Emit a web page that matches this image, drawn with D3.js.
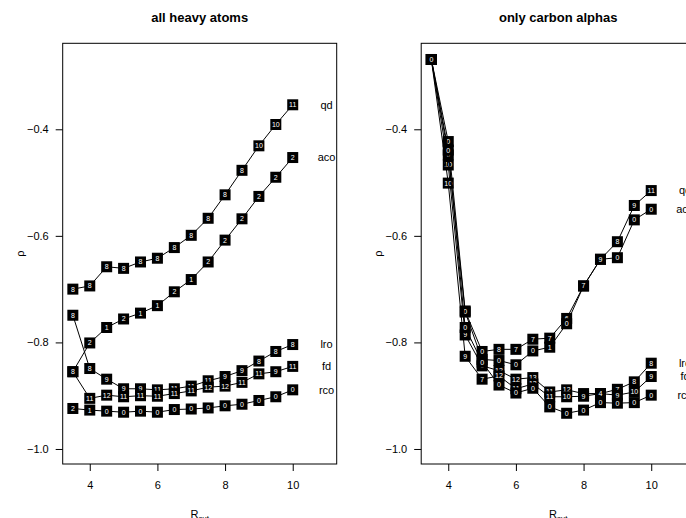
<!DOCTYPE html>
<html>
  <head>
    <meta charset="utf-8">
    <title>rho vs Rcut</title>
    <style>
      body { margin: 0; background: white; }
      svg { display: block; font-family: "Liberation Sans", Arial, Helvetica, sans-serif; }
    </style>
    <script src="https://cdn.jsdelivr.net/npm/d3@7"></script>
  </head>
  <body>
    <svg id="chart"></svg>
    <script>
      var width = 686;
      var height = 518;

      // cutoff radii on the x axis
      var rcut = [3.5, 4, 4.5, 5, 5.5, 6, 6.5, 7, 7.5, 8, 8.5, 9, 9.5, 10];
      var seriesNames = ["qd", "aco", "lro", "fd", "rco"];
      var xTicks = [4, 6, 8, 10];
      var yTicks = [-1.0, -0.8, -0.6, -0.4];
      var panelTitles = ["all heavy atoms", "only carbon alphas"];

      // panel 1: all heavy atoms
      var heavyQd  = [-0.700, -0.694, -0.658, -0.661, -0.649, -0.642, -0.622, -0.599, -0.567, -0.523, -0.477, -0.431, -0.391, -0.354];
      var heavyAco = [-0.855, -0.801, -0.772, -0.756, -0.745, -0.731, -0.705, -0.682, -0.649, -0.608, -0.568, -0.526, -0.490, -0.453];
      var heavyLro = [-0.749, -0.849, -0.869, -0.887, -0.887, -0.889, -0.887, -0.882, -0.872, -0.864, -0.853, -0.835, -0.817, -0.804];
      var heavyFd  = [-0.855, -0.905, -0.899, -0.902, -0.900, -0.901, -0.896, -0.891, -0.884, -0.882, -0.875, -0.859, -0.855, -0.845];
      var heavyRco = [-0.924, -0.927, -0.929, -0.931, -0.929, -0.931, -0.926, -0.925, -0.923, -0.919, -0.916, -0.909, -0.902, -0.889];

      var heavyQdLab  = [8, 8, 8, 8, 8, 8, 8, 8, 8, 8, 8, 10, 10, 11];
      var heavyAcoLab = [8, 2, 1, 2, 1, 1, 2, 1, 2, 2, 2, 2, 2, 2];
      var heavyLroLab = [8, 8, 9, 9, 9, 11, 11, 11, 11, 9, 9, 8, 8, 8];
      var heavyFdLab  = [8, 11, 12, 11, 11, 11, 11, 11, 12, 12, 11, 11, 9, 11];
      var heavyRcoLab = [2, 1, 0, 0, 0, 0, 0, 0, 0, 0, 0, 0, 0, 0];

      // panel 2: only carbon alphas
      var caQd  = [-0.269, -0.423, -0.741, -0.817, -0.813, -0.813, -0.794, -0.792, -0.755, -0.694, -0.644, -0.611, -0.543, -0.515];
      var caAco = [-0.269, -0.448, -0.743, -0.832, -0.834, -0.842, -0.816, -0.809, -0.765, -0.694, -0.644, -0.641, -0.570, -0.550];
      var caLro = [-0.269, -0.467, -0.786, -0.844, -0.853, -0.869, -0.866, -0.893, -0.889, -0.896, -0.896, -0.888, -0.874, -0.839];
      var caFd  = [-0.269, -0.501, -0.826, -0.869, -0.863, -0.887, -0.878, -0.902, -0.902, -0.901, -0.896, -0.899, -0.893, -0.864];
      var caRco = [-0.269, -0.439, -0.772, -0.837, -0.880, -0.895, -0.886, -0.921, -0.933, -0.927, -0.913, -0.914, -0.913, -0.899];

      var caQdLab  = [0, 0, 0, 0, 8, 7, 7, 7, 6, 7, 9, 8, 9, 11];
      var caAcoLab = [0, 0, 0, 6, 0, 0, 0, 1, 0, 7, 9, 0, 0, 0];
      var caLroLab = [0, 10, 9, 0, 12, 12, 13, 11, 12, 9, 4, 7, 8, 8];
      var caFdLab  = [0, 10, 9, 7, 12, 11, 12, 11, 10, 9, 4, 9, 10, 9];
      var caRcoLab = [0, 0, 0, 0, 0, 0, 0, 0, 0, 0, 0, 0, 0, 0];

      var panels = [
        { title: panelTitles[0], left: 62.7,
          values: [heavyQd, heavyAco, heavyLro, heavyFd, heavyRco],
          labels: [heavyQdLab, heavyAcoLab, heavyLroLab, heavyFdLab, heavyRcoLab] },
        { title: panelTitles[1], left: 421.2,
          values: [caQd, caAco, caLro, caFd, caRco],
          labels: [caQdLab, caAcoLab, caLroLab, caFdLab, caRcoLab] }
      ];

      var boxW = 274;
      var plotTop = 43.3, plotBottom = 464;
      var box = 11;

      var svg = d3.select("#chart")
          .attr("width", width)
          .attr("height", height);

      var y = d3.scaleLinear().domain([-1.0282, -0.2386]).range([plotBottom, plotTop]);

      panels.forEach(function(p) {
        var x = d3.scaleLinear().domain([3.2, 11.3]).range([p.left, p.left + boxW]);
        var g = svg.append("g");

        g.append("rect")
          .attr("x", p.left).attr("y", plotTop)
          .attr("width", boxW).attr("height", plotBottom - plotTop)
          .attr("fill", "none").attr("stroke", "black").attr("stroke-width", 1);

        var xAxis = g.append("g")
          .attr("transform", "translate(0," + plotBottom + ")")
          .call(d3.axisBottom(x).tickValues(xTicks).tickSize(7).tickPadding(10).tickFormat(d3.format("d")));
        var yAxis = g.append("g")
          .attr("transform", "translate(" + p.left + ",0)")
          .call(d3.axisLeft(y).tickValues(yTicks).tickSize(7).tickPadding(7).tickFormat(d3.format(".1f")));
        [xAxis, yAxis].forEach(function(a) {
          a.select(".domain").remove();
          a.selectAll("text").attr("font-size", 11).attr("fill", "black")
            .attr("font-family", "Liberation Sans, Arial, sans-serif");
          a.selectAll("line").attr("stroke", "black");
        });

        var cx = p.left + boxW / 2;
        g.append("text")
          .attr("x", cx).attr("y", 22)
          .attr("text-anchor", "middle")
          .attr("font-size", 13).attr("font-weight", "bold")
          .text(p.title);

        var xl = g.append("text")
          .attr("x", cx).attr("y", 518)
          .attr("text-anchor", "middle")
          .attr("font-size", 11);
        xl.append("tspan").text("R");
        xl.append("tspan").attr("font-size", 8).attr("dy", 3).text("cut");

        g.append("text")
          .attr("transform", "translate(" + (p.left - 42.7) + "," + ((plotTop + plotBottom) / 2) + ") rotate(-90)")
          .attr("text-anchor", "middle")
          .attr("dy", "0.35em")
          .attr("font-size", 11)
          .text("ρ");

        var line = d3.line()
          .x(function(d, i) { return x(rcut[i]); })
          .y(function(d) { return y(d); });

        p.values.forEach(function(vals, s) {
          g.append("path")
            .datum(vals)
            .attr("d", line)
            .attr("fill", "none")
            .attr("stroke", "black")
            .attr("stroke-width", 1);

          var pts = g.append("g").selectAll("g")
            .data(vals)
            .enter().append("g")
            .attr("transform", function(d, i) { return "translate(" + x(rcut[i]) + "," + y(d) + ")"; });
          pts.append("rect")
            .attr("x", -box / 2).attr("y", -box / 2)
            .attr("width", box).attr("height", box)
            .attr("fill", "black");
          pts.append("text")
            .attr("text-anchor", "middle")
            .attr("dy", "0.35em")
            .attr("font-size", 7)
            .attr("fill", "white")
            .text(function(d, i) { return p.labels[s][i]; });

          g.append("text")
            .attr("x", x(11))
            .attr("y", y(vals[vals.length - 1]))
            .attr("dy", "0.35em")
            .attr("text-anchor", "middle")
            .attr("font-size", 11)
            .text(seriesNames[s]);
        });
      });
    </script>
  </body>
</html>
